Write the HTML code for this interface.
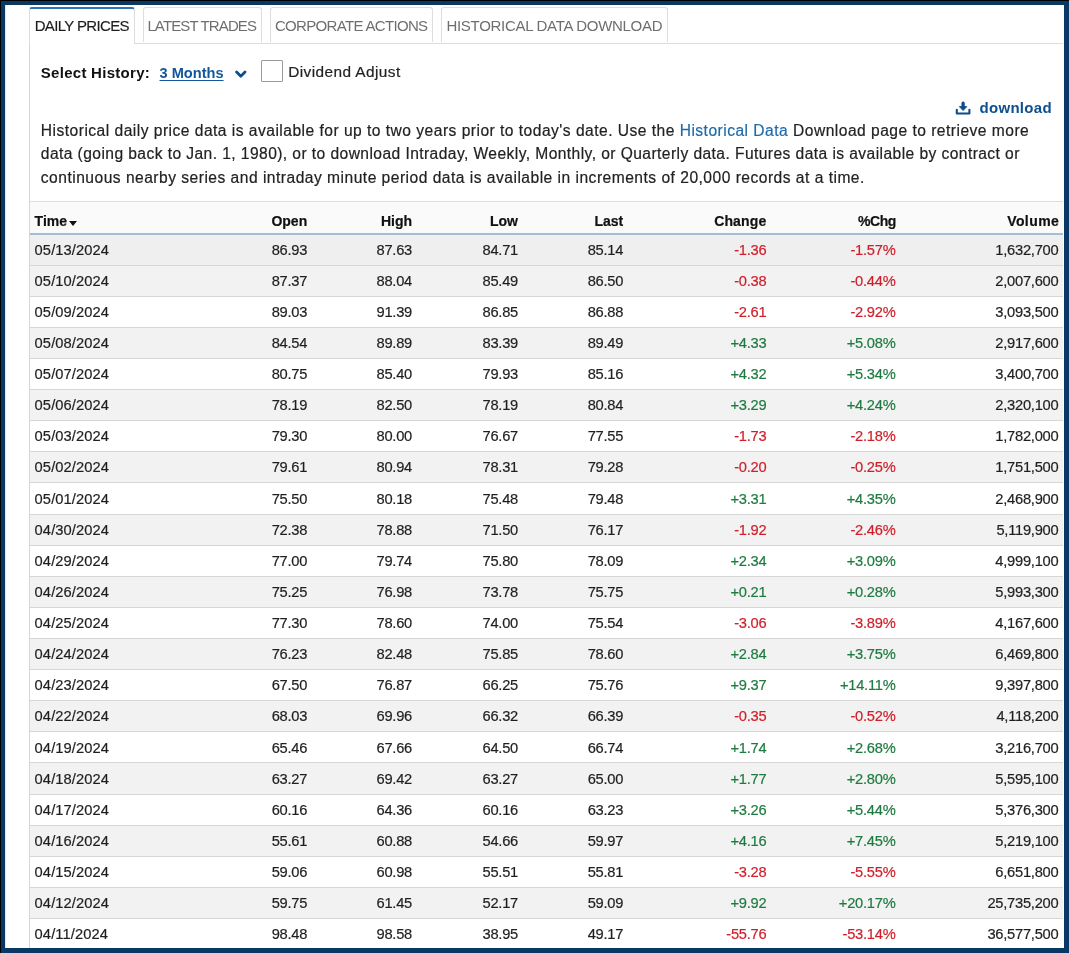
<!DOCTYPE html>
<html><head><meta charset="utf-8"><style>
html,body{margin:0;padding:0}
.wrap{position:absolute;left:0;top:0;width:1069px;height:953px;will-change:transform}
body{width:1069px;height:953px;overflow:hidden;position:relative;background:#fff;font-family:"Liberation Sans",sans-serif;color:#222}
.c,.para,.divadj{-webkit-text-stroke:0.2px currentColor}
.tab.act span{-webkit-text-stroke:0.15px currentColor}
.frame{position:absolute;left:0;top:0;width:1069px;height:953px;box-sizing:border-box;border:5px solid #0a3864;border-top-width:5px;z-index:10;pointer-events:none}
.bk1{position:absolute;left:0;top:0;width:1069px;height:1px;background:#000;z-index:11}
.bk2{position:absolute;left:0;top:0;width:1px;height:953px;background:#000;z-index:11}
.tab{position:absolute;top:7px;height:35px;box-sizing:border-box;border:1px solid #ddd;border-bottom:none;border-radius:3px 3px 0 0;background:#fff}
.tab span{position:absolute;top:0;line-height:35px;font-size:15px;letter-spacing:-0.65px;color:#6e6e6e;white-space:nowrap}
.tab.act{border-top:2px solid #2f73bd;height:37px;z-index:2}
.tab.act span{color:#1e1e1e;line-height:35px;top:-1px}
.strip{position:absolute;left:29px;top:43px;width:1034px;height:1px;background:#ddd}
.pane{position:absolute;left:29px;top:44px;width:1px;height:904px;background:#d6d6d6;z-index:3}
.lbl{position:absolute;font-size:15px;font-weight:bold;color:#111;white-space:nowrap;line-height:20px}
.link{position:absolute;font-size:14.6px;font-weight:bold;color:#13579a;white-space:nowrap;line-height:20px;text-decoration:underline;text-underline-offset:2px}
.chev{position:absolute;left:235px;top:70px}
.cb{position:absolute;left:261px;top:60px;width:22px;height:22px;box-sizing:border-box;border:1.3px solid #9a9a9a;border-radius:1px;background:#fff}
.divadj{position:absolute;left:288.2px;top:62px;font-size:15.4px;letter-spacing:0.42px;color:#222;white-space:nowrap;line-height:20px}
.dl{position:absolute;left:955px;top:99px}
.dltxt{position:absolute;left:979.5px;top:98px;letter-spacing:0.3px;font-size:15px;font-weight:bold;color:#0d4f8f;white-space:nowrap;line-height:20px}
.para{position:absolute;left:40.8px;font-size:15.6px;letter-spacing:0.47px;color:#222;white-space:nowrap;line-height:20px}
.para a{color:#1f6aa8;text-decoration:none}
.tbl{position:absolute;left:30px;top:201px;width:1033px;height:747px;overflow:hidden}
.ttop{position:absolute;left:29px;top:201px;width:1034px;height:1px;background:#ddd}
.hdr{position:absolute;left:29px;top:202px;width:1034px;height:31px;background:#fafafa}
.hline{position:absolute;left:29px;top:233px;width:1034px;height:2px;background:#a3bdd6;z-index:2}
.row{position:absolute;left:29px;width:1034px;height:31.11px;box-sizing:border-box;border-bottom:1px solid #d6d6d6}
.c{position:absolute;top:0.2px;line-height:31px;font-size:14.7px;letter-spacing:-0.25px;white-space:nowrap;color:#1f1f1f}
.hdr .c{font-weight:bold;color:#111;font-size:14px;top:4.2px;letter-spacing:0}
.c.d{letter-spacing:0.1px}
.c.g{color:#1f7b40}
.c.rd{color:#cf1f2a}
.caret{display:inline-block;width:0;height:0;border-left:4px solid transparent;border-right:4px solid transparent;border-top:5px solid #111;margin-left:2px;vertical-align:0px}
</style></head><body>
<div class="wrap">
<div class="bk1"></div><div class="bk2"></div><div class="frame"></div>
<div style="position:absolute;left:5px;top:5px;width:1px;height:943px;background:#e6e6e6"></div>
<div class="strip"></div>
<div class="pane"></div>
<div class="tab act" style="left:29px;width:106px"><span style="left:4.7px">DAILY PRICES</span></div>
<div class="tab" style="left:143px;width:119px"><span style="left:3.4px;letter-spacing:-0.87px">LATEST TRADES</span></div>
<div class="tab" style="left:270px;width:163px"><span style="left:3.9px;letter-spacing:-0.67px">CORPORATE ACTIONS</span></div>
<div class="tab" style="left:441px;width:227px"><span style="left:4.4px;letter-spacing:-0.29px">HISTORICAL DATA DOWNLOAD</span></div>
<div class="lbl" style="left:40.8px;top:63px;letter-spacing:0.28px">Select History:</div>
<div class="link" style="left:159.5px;top:63px">3 Months</div>
<svg class="chev" width="12" height="9" viewBox="0 0 12 9"><path d="M1.6 2 L5.8 6.2 L10 2" fill="none" stroke="#0b4c8c" stroke-width="2.7" stroke-linecap="round" stroke-linejoin="round"/></svg>
<div class="cb"></div>
<div class="divadj">Dividend Adjust</div>
<svg class="dl" width="17" height="17" viewBox="0 0 17 17"><path d="M1.8 10.7 V14.5 H14.4 V10.7" fill="none" stroke="#0b4c8c" stroke-width="2.1" stroke-linecap="round" stroke-linejoin="round"/><path d="M8.1 4.1 V8.5" stroke="#0b4c8c" stroke-width="3.3" stroke-linecap="round"/><path d="M4.3 7.6 H11.9 L8.1 11.6 Z" fill="#0b4c8c" stroke="#0b4c8c" stroke-width="0.8" stroke-linejoin="round"/></svg>
<div class="dltxt">download</div>
<div class="para" style="top:121px;letter-spacing:0.477px">Historical daily price data is available for up to two years prior to today's date. Use the <a>Historical Data</a> Download page to retrieve more</div>
<div class="para" style="top:144.4px;letter-spacing:0.426px">data (going back to Jan. 1, 1980), or to download Intraday, Weekly, Monthly, or Quarterly data. Futures data is available by contract or</div>
<div class="para" style="top:167.7px;letter-spacing:0.485px">continuous nearby series and intraday minute period data is available in increments of 20,000 records at a time.</div>
<div class="ttop"></div>
<div class="hdr"><span class="c l" style="left:5.6px">Time<i class="caret"></i></span><span class="c r" style="right:755.8px;">Open</span><span class="c r" style="right:651.0px;">High</span><span class="c r" style="right:545.0px;">Low</span><span class="c r" style="right:439.8px;">Last</span><span class="c r" style="right:296.6px;letter-spacing:0.15px;">Change</span><span class="c r" style="right:167.0px;letter-spacing:-0.43px;">%Chg</span><span class="c r" style="right:3.7px;letter-spacing:0.44px;">Volume</span></div>
<div class="hline"></div>
<div class="row" style="top:234.45px;background:#efefef"><span class="c l d" style="left:5.6px">05/13/2024</span><span class="c r" style="right:755.8px">86.93</span><span class="c r" style="right:651.0px">87.63</span><span class="c r" style="right:545.0px">84.71</span><span class="c r" style="right:439.8px">85.14</span><span class="c r rd" style="right:296.6px">-1.36</span><span class="c r rd" style="right:167.5px">-1.57%</span><span class="c r" style="right:4.6px">1,632,700</span></div><div class="row" style="top:265.57px;background:#f2f2f2"><span class="c l d" style="left:5.6px">05/10/2024</span><span class="c r" style="right:755.8px">87.37</span><span class="c r" style="right:651.0px">88.04</span><span class="c r" style="right:545.0px">85.49</span><span class="c r" style="right:439.8px">86.50</span><span class="c r rd" style="right:296.6px">-0.38</span><span class="c r rd" style="right:167.5px">-0.44%</span><span class="c r" style="right:4.6px">2,007,600</span></div><div class="row" style="top:296.69px;background:#fff"><span class="c l d" style="left:5.6px">05/09/2024</span><span class="c r" style="right:755.8px">89.03</span><span class="c r" style="right:651.0px">91.39</span><span class="c r" style="right:545.0px">86.85</span><span class="c r" style="right:439.8px">86.88</span><span class="c r rd" style="right:296.6px">-2.61</span><span class="c r rd" style="right:167.5px">-2.92%</span><span class="c r" style="right:4.6px">3,093,500</span></div><div class="row" style="top:327.81px;background:#f2f2f2"><span class="c l d" style="left:5.6px">05/08/2024</span><span class="c r" style="right:755.8px">84.54</span><span class="c r" style="right:651.0px">89.89</span><span class="c r" style="right:545.0px">83.39</span><span class="c r" style="right:439.8px">89.49</span><span class="c r g" style="right:296.6px">+4.33</span><span class="c r g" style="right:167.5px">+5.08%</span><span class="c r" style="right:4.6px">2,917,600</span></div><div class="row" style="top:358.93px;background:#fff"><span class="c l d" style="left:5.6px">05/07/2024</span><span class="c r" style="right:755.8px">80.75</span><span class="c r" style="right:651.0px">85.40</span><span class="c r" style="right:545.0px">79.93</span><span class="c r" style="right:439.8px">85.16</span><span class="c r g" style="right:296.6px">+4.32</span><span class="c r g" style="right:167.5px">+5.34%</span><span class="c r" style="right:4.6px">3,400,700</span></div><div class="row" style="top:390.05px;background:#f2f2f2"><span class="c l d" style="left:5.6px">05/06/2024</span><span class="c r" style="right:755.8px">78.19</span><span class="c r" style="right:651.0px">82.50</span><span class="c r" style="right:545.0px">78.19</span><span class="c r" style="right:439.8px">80.84</span><span class="c r g" style="right:296.6px">+3.29</span><span class="c r g" style="right:167.5px">+4.24%</span><span class="c r" style="right:4.6px">2,320,100</span></div><div class="row" style="top:421.17px;background:#fff"><span class="c l d" style="left:5.6px">05/03/2024</span><span class="c r" style="right:755.8px">79.30</span><span class="c r" style="right:651.0px">80.00</span><span class="c r" style="right:545.0px">76.67</span><span class="c r" style="right:439.8px">77.55</span><span class="c r rd" style="right:296.6px">-1.73</span><span class="c r rd" style="right:167.5px">-2.18%</span><span class="c r" style="right:4.6px">1,782,000</span></div><div class="row" style="top:452.29px;background:#f2f2f2"><span class="c l d" style="left:5.6px">05/02/2024</span><span class="c r" style="right:755.8px">79.61</span><span class="c r" style="right:651.0px">80.94</span><span class="c r" style="right:545.0px">78.31</span><span class="c r" style="right:439.8px">79.28</span><span class="c r rd" style="right:296.6px">-0.20</span><span class="c r rd" style="right:167.5px">-0.25%</span><span class="c r" style="right:4.6px">1,751,500</span></div><div class="row" style="top:483.41px;background:#fff"><span class="c l d" style="left:5.6px">05/01/2024</span><span class="c r" style="right:755.8px">75.50</span><span class="c r" style="right:651.0px">80.18</span><span class="c r" style="right:545.0px">75.48</span><span class="c r" style="right:439.8px">79.48</span><span class="c r g" style="right:296.6px">+3.31</span><span class="c r g" style="right:167.5px">+4.35%</span><span class="c r" style="right:4.6px">2,468,900</span></div><div class="row" style="top:514.53px;background:#f2f2f2"><span class="c l d" style="left:5.6px">04/30/2024</span><span class="c r" style="right:755.8px">72.38</span><span class="c r" style="right:651.0px">78.88</span><span class="c r" style="right:545.0px">71.50</span><span class="c r" style="right:439.8px">76.17</span><span class="c r rd" style="right:296.6px">-1.92</span><span class="c r rd" style="right:167.5px">-2.46%</span><span class="c r" style="right:4.6px">5,119,900</span></div><div class="row" style="top:545.65px;background:#fff"><span class="c l d" style="left:5.6px">04/29/2024</span><span class="c r" style="right:755.8px">77.00</span><span class="c r" style="right:651.0px">79.74</span><span class="c r" style="right:545.0px">75.80</span><span class="c r" style="right:439.8px">78.09</span><span class="c r g" style="right:296.6px">+2.34</span><span class="c r g" style="right:167.5px">+3.09%</span><span class="c r" style="right:4.6px">4,999,100</span></div><div class="row" style="top:576.77px;background:#f2f2f2"><span class="c l d" style="left:5.6px">04/26/2024</span><span class="c r" style="right:755.8px">75.25</span><span class="c r" style="right:651.0px">76.98</span><span class="c r" style="right:545.0px">73.78</span><span class="c r" style="right:439.8px">75.75</span><span class="c r g" style="right:296.6px">+0.21</span><span class="c r g" style="right:167.5px">+0.28%</span><span class="c r" style="right:4.6px">5,993,300</span></div><div class="row" style="top:607.89px;background:#fff"><span class="c l d" style="left:5.6px">04/25/2024</span><span class="c r" style="right:755.8px">77.30</span><span class="c r" style="right:651.0px">78.60</span><span class="c r" style="right:545.0px">74.00</span><span class="c r" style="right:439.8px">75.54</span><span class="c r rd" style="right:296.6px">-3.06</span><span class="c r rd" style="right:167.5px">-3.89%</span><span class="c r" style="right:4.6px">4,167,600</span></div><div class="row" style="top:639.01px;background:#f2f2f2"><span class="c l d" style="left:5.6px">04/24/2024</span><span class="c r" style="right:755.8px">76.23</span><span class="c r" style="right:651.0px">82.48</span><span class="c r" style="right:545.0px">75.85</span><span class="c r" style="right:439.8px">78.60</span><span class="c r g" style="right:296.6px">+2.84</span><span class="c r g" style="right:167.5px">+3.75%</span><span class="c r" style="right:4.6px">6,469,800</span></div><div class="row" style="top:670.13px;background:#fff"><span class="c l d" style="left:5.6px">04/23/2024</span><span class="c r" style="right:755.8px">67.50</span><span class="c r" style="right:651.0px">76.87</span><span class="c r" style="right:545.0px">66.25</span><span class="c r" style="right:439.8px">75.76</span><span class="c r g" style="right:296.6px">+9.37</span><span class="c r g" style="right:167.5px">+14.11%</span><span class="c r" style="right:4.6px">9,397,800</span></div><div class="row" style="top:701.25px;background:#f2f2f2"><span class="c l d" style="left:5.6px">04/22/2024</span><span class="c r" style="right:755.8px">68.03</span><span class="c r" style="right:651.0px">69.96</span><span class="c r" style="right:545.0px">66.32</span><span class="c r" style="right:439.8px">66.39</span><span class="c r rd" style="right:296.6px">-0.35</span><span class="c r rd" style="right:167.5px">-0.52%</span><span class="c r" style="right:4.6px">4,118,200</span></div><div class="row" style="top:732.37px;background:#fff"><span class="c l d" style="left:5.6px">04/19/2024</span><span class="c r" style="right:755.8px">65.46</span><span class="c r" style="right:651.0px">67.66</span><span class="c r" style="right:545.0px">64.50</span><span class="c r" style="right:439.8px">66.74</span><span class="c r g" style="right:296.6px">+1.74</span><span class="c r g" style="right:167.5px">+2.68%</span><span class="c r" style="right:4.6px">3,216,700</span></div><div class="row" style="top:763.49px;background:#f2f2f2"><span class="c l d" style="left:5.6px">04/18/2024</span><span class="c r" style="right:755.8px">63.27</span><span class="c r" style="right:651.0px">69.42</span><span class="c r" style="right:545.0px">63.27</span><span class="c r" style="right:439.8px">65.00</span><span class="c r g" style="right:296.6px">+1.77</span><span class="c r g" style="right:167.5px">+2.80%</span><span class="c r" style="right:4.6px">5,595,100</span></div><div class="row" style="top:794.61px;background:#fff"><span class="c l d" style="left:5.6px">04/17/2024</span><span class="c r" style="right:755.8px">60.16</span><span class="c r" style="right:651.0px">64.36</span><span class="c r" style="right:545.0px">60.16</span><span class="c r" style="right:439.8px">63.23</span><span class="c r g" style="right:296.6px">+3.26</span><span class="c r g" style="right:167.5px">+5.44%</span><span class="c r" style="right:4.6px">5,376,300</span></div><div class="row" style="top:825.73px;background:#f2f2f2"><span class="c l d" style="left:5.6px">04/16/2024</span><span class="c r" style="right:755.8px">55.61</span><span class="c r" style="right:651.0px">60.88</span><span class="c r" style="right:545.0px">54.66</span><span class="c r" style="right:439.8px">59.97</span><span class="c r g" style="right:296.6px">+4.16</span><span class="c r g" style="right:167.5px">+7.45%</span><span class="c r" style="right:4.6px">5,219,100</span></div><div class="row" style="top:856.85px;background:#fff"><span class="c l d" style="left:5.6px">04/15/2024</span><span class="c r" style="right:755.8px">59.06</span><span class="c r" style="right:651.0px">60.98</span><span class="c r" style="right:545.0px">55.51</span><span class="c r" style="right:439.8px">55.81</span><span class="c r rd" style="right:296.6px">-3.28</span><span class="c r rd" style="right:167.5px">-5.55%</span><span class="c r" style="right:4.6px">6,651,800</span></div><div class="row" style="top:887.97px;background:#f2f2f2"><span class="c l d" style="left:5.6px">04/12/2024</span><span class="c r" style="right:755.8px">59.75</span><span class="c r" style="right:651.0px">61.45</span><span class="c r" style="right:545.0px">52.17</span><span class="c r" style="right:439.8px">59.09</span><span class="c r g" style="right:296.6px">+9.92</span><span class="c r g" style="right:167.5px">+20.17%</span><span class="c r" style="right:4.6px">25,735,200</span></div><div class="row" style="top:919.09px;background:#fff"><span class="c l d" style="left:5.6px">04/11/2024</span><span class="c r" style="right:755.8px">98.48</span><span class="c r" style="right:651.0px">98.58</span><span class="c r" style="right:545.0px">38.95</span><span class="c r" style="right:439.8px">49.17</span><span class="c r rd" style="right:296.6px">-55.76</span><span class="c r rd" style="right:167.5px">-53.14%</span><span class="c r" style="right:4.6px">36,577,500</span></div>
</div>
</body></html>
